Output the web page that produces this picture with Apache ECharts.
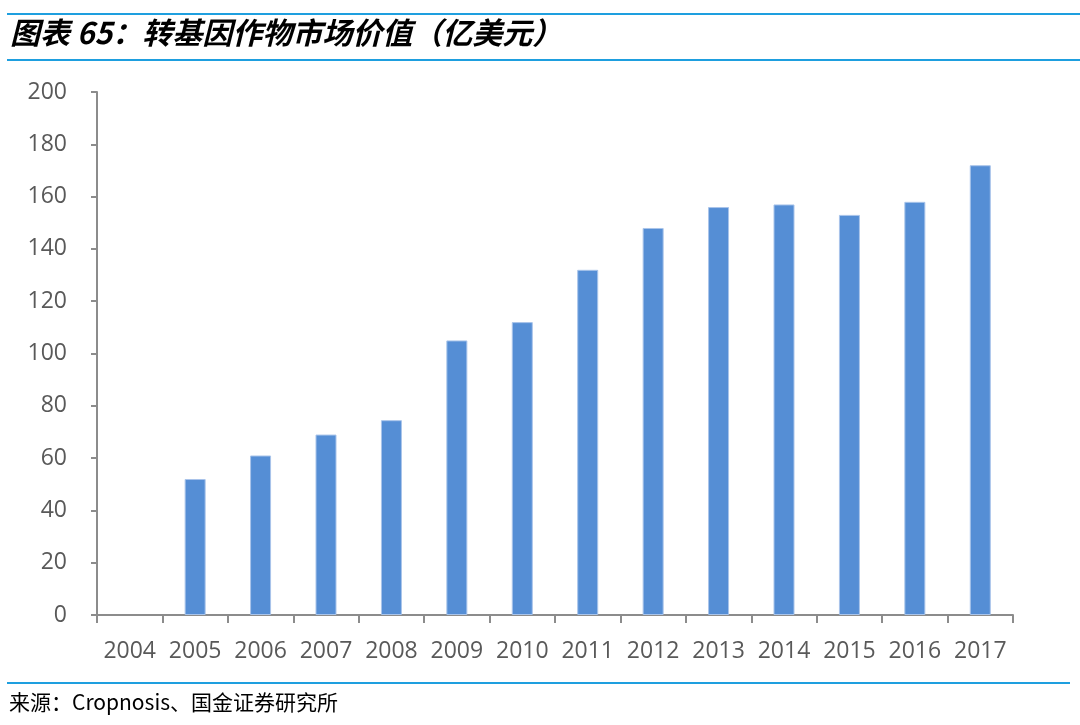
<!DOCTYPE html>
<html>
<head>
	<title>转基因作物市场价值</title>
	<meta charset="utf-8">
	<script src="https://cdn.jsdelivr.net/npm/echarts@6/dist/echarts.min.js"></script>
	<style>
		html, body { margin: 0; padding: 0; background: #ffffff; }
	</style>
</head>
<body>
	<div id="gm-bars" style="width: 1080px;height: 725px;"></div>
</body>

<script>
	// 年份
	var years = ['2004', '2005', '2006', '2007', '2008', '2009', '2010',
		'2011', '2012', '2013', '2014', '2015', '2016', '2017'];
	// 市场价值（亿美元），2004 年无数据
	var values = [null, 52, 61, 69, 74.5, 105, 112, 132, 148, 156, 157, 153, 158, 172];
	// 纵轴刻度
	var yTicks = [0, 20, 40, 60, 80, 100, 120, 140, 160, 180, 200];

	var titleText = '图表 65：转基因作物市场价值（亿美元）';
	var sourceText = '来源：Cropnosis、国金证券研究所';

	var lineColor = '#1e9fdf';
	var axisColor = '#8c8c8c';
	var labelColor = '#595959';
	var cjk = '"Noto Sans CJK SC", "Liberation Sans", sans-serif';
	var latin = '"Open Sans", "Liberation Sans", sans-serif';

	var barOption = {
		animation: false,
		backgroundColor: '#ffffff',
		grid: {
			left: 97,
			right: 67,
			top: 92,
			bottom: 110
		},
		graphic: [
			{ type: 'rect', shape: { x: 7, y: 13, width: 1073, height: 2 }, style: { fill: lineColor } },
			{ type: 'rect', shape: { x: 7, y: 59, width: 1073, height: 2 }, style: { fill: lineColor } },
			{
				type: 'text', left: 10, top: 18,
				style: {
					text: titleText,
					font: 'italic bold 30px ' + cjk,
					fill: '#000000'
				}
			},
			{ type: 'rect', shape: { x: 7, y: 682, width: 1063, height: 2 }, style: { fill: lineColor } },
			{
				type: 'text', left: 9, top: 692,
				style: {
					text: sourceText,
					font: '21px ' + cjk,
					fill: '#000000'
				}
			}
		],
		xAxis: {
			type: 'category',
			data: years,
			axisLine: { lineStyle: { color: axisColor, width: 2 } },
			axisTick: { show: true, length: 8, lineStyle: { color: axisColor, width: 2 } },
			axisLabel: {
				interval: 0,
				color: labelColor,
				fontSize: 23,
				fontFamily: latin,
				margin: 25
			}
		},
		yAxis: {
			type: 'value',
			min: yTicks[0],
			max: yTicks[yTicks.length - 1],
			interval: yTicks[1] - yTicks[0],
			axisLine: { show: true, lineStyle: { color: axisColor, width: 2 } },
			axisTick: { show: true, length: 6, lineStyle: { color: axisColor, width: 2 } },
			splitLine: { show: false },
			axisLabel: {
				color: labelColor,
				fontSize: 23,
				fontFamily: latin,
				margin: 30
			}
		},
		series: [{
			type: 'bar',
			data: values,
			barWidth: 21,
			itemStyle: {
				color: '#558ed5',
				borderColor: '#a9c4ea',
				borderWidth: 1
			}
		}]
	};
	var bars = echarts.init(document.getElementById('gm-bars'));
	bars.setOption(barOption);
</script>
</html>
